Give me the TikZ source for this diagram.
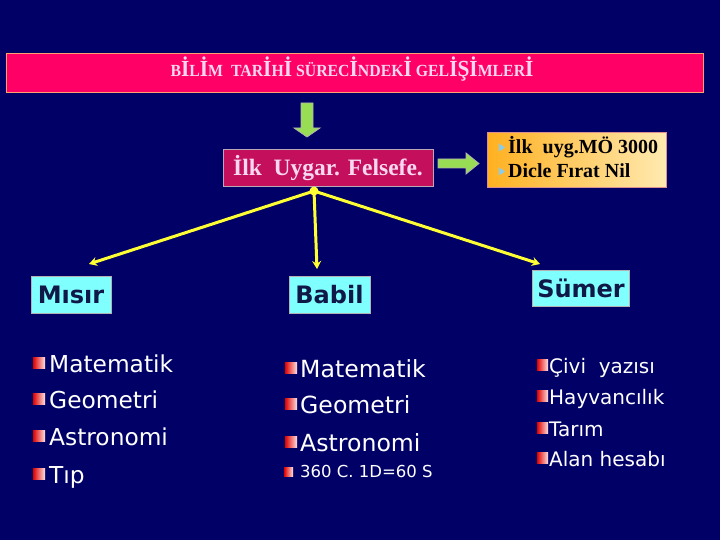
\documentclass[tikz,border=0pt]{standalone}
\usepackage{fontspec}
\usepackage{graphicx}
\setmainfont{Liberation Serif}
\newfontfamily\dv{DejaVu Sans}
\usetikzlibrary{arrows.meta}
\definecolor{bgnavy}{HTML}{000066}
\definecolor{titlefill}{HTML}{FF0066}
\definecolor{titledraw}{HTML}{FFA070}
\definecolor{titletext}{HTML}{F8D8F0}
\definecolor{crimson}{HTML}{C4105C}
\definecolor{crimsondraw}{HTML}{B8A8B8}
\definecolor{cyanf}{HTML}{80FFFF}
\definecolor{cyantext}{HTML}{101848}
\definecolor{greenf}{HTML}{99DD55}
\definecolor{yl}{HTML}{FFFF33}
\definecolor{orl}{HTML}{FFB020}
\definecolor{orr}{HTML}{FFEAB0}
\definecolor{ordraw}{HTML}{D89090}
\definecolor{bulred}{HTML}{E00000}
\definecolor{bulwhite}{HTML}{FFE0E0}
\definecolor{trib}{HTML}{88CCEE}
\newcommand\BigL[1]{{\fontsize{23}{23}\selectfont #1}}
\tikzset{
  cbox/.style={fill=cyanf, draw=gray!60, line width=1pt, text=cyantext,
    font=\dv\bfseries\fontsize{24}{28}\selectfont, minimum height=37pt, inner sep=0pt},
  itemL/.style={anchor=base west, text=white, inner sep=0pt, font=\dv\fontsize{23.3}{27}\selectfont},
  itemM/.style={anchor=base west, text=white, inner sep=0pt, font=\dv\fontsize{23.6}{27}\selectfont},
  itemS/.style={anchor=base west, text=white, inner sep=0pt, font=\dv\fontsize{16.5}{20}\selectfont},
  itemR/.style={anchor=base west, text=white, inner sep=0pt, font=\dv\fontsize{20}{24}\selectfont},
  bul/.style={left color=bulred, right color=bulwhite},
  garrow/.style={fill=greenf, draw=gray!60, line width=0.8pt},
  conn/.style={draw=yl, line width=3pt, -{Stealth[length=8pt,width=9pt]}},
  otext/.style={anchor=base west, inner sep=0pt, text=black, font=\bfseries\fontsize{20}{24}\selectfont},
}
\begin{document}
\begin{tikzpicture}[x=1pt,y=-1pt]
\fill[bgnavy] (0,0) rectangle (720,540);
\useasboundingbox (0,0) rectangle (720,540);
% title
\node[fill=titlefill, draw=titledraw, line width=1pt, minimum width=697pt, minimum height=39pt, inner sep=0pt] (title) at (354.5,73.5) {};
\node[text=titletext, inner sep=0pt, anchor=base, font=\bfseries\fontsize{17}{18}\selectfont] (titletxt) at (352,77)
  {\resizebox{363pt}{\height}{B\BigL{İ}L\BigL{İ}M\ \ TAR\BigL{İ}H\BigL{İ} SÜREC\BigL{İ}NDEK\BigL{İ} GEL\BigL{İ}\BigL{Ş}\BigL{İ}MLER\BigL{İ}}};
% green down arrow
\draw[garrow] (301,103) -- (313,103) -- (313,128) -- (320,128) -- (307,137) -- (294,128) -- (301,128) -- cycle;
% middle box
\node[fill=crimson, draw=crimsondraw, line width=1pt, minimum width=210pt, minimum height=37pt, inner sep=0pt,
  text=titletext, font=\bfseries\fontsize{23.5}{27}\selectfont] (mid) at (328,168.5) {İlk\ \ Uygar. Felsefe.};
% right arrow
\draw[garrow] (438,159) -- (466,159) -- (466,153) -- (479,163.5) -- (466,174) -- (466,168) -- (438,168) -- cycle;
% orange box
\node[left color=orl, right color=orr, draw=ordraw, line width=1pt, minimum width=179pt, minimum height=55pt, inner sep=0pt] (info) at (576.5,160.5) {};
\fill[trib] (499,143.5) -- (505,147.5) -- (499,151.5) -- cycle;
\fill[trib] (499,167.5) -- (505,171.5) -- (499,175.5) -- cycle;
\node[otext] (info1) at (508,154) {İlk\ \ uyg.MÖ 3000};
\node[otext] (info2) at (508,178) {Dicle Fırat Nil};
% category boxes
\node[cbox, minimum width=80pt] (misir) at (71,294.5) {Mısır};
\node[cbox, minimum width=81pt] (babil) at (329.5,294.5) {Babil};
\node[cbox, minimum width=97pt, minimum height=36pt] (sumer) at (581,288.5) {Sümer};
% connectors
\coordinate (hub) at (314,191);
\coordinate (tipM) at (89,264);
\coordinate (tipB) at (317,269);
\coordinate (tipS) at (540,264);
\draw[conn] (hub) -- (tipM);
\draw[conn] (hub) -- (tipB);
\draw[conn] (hub) -- (tipS);
\fill[yl] (hub) circle (4.5);
% left list
\foreach \yy/\tt [count=\i] in {372/Matematik, 408/Geometri, 445/Astronomi, 483/Tıp}{
  \fill[bul] (33,\yy-15) rectangle (45,\yy-4);
  \node[itemL] (l\i) at (49,\yy) {\tt};
}
% middle list
\foreach \yy/\tt [count=\i] in {377/Matematik, 413/Geometri, 451/Astronomi}{
  \fill[bul] (285,\yy-15) rectangle (297,\yy-4);
  \node[itemM] (m\i) at (300,\yy) {\tt};
}
\fill[bul] (284,467) rectangle (293,476);
\node[itemS] (m4) at (300,477) {360 C. 1D=60 S};
% right list
\foreach \yy/\tt [count=\i] in {373/{Çivi\ \ yazısı}, 404/Hayvancılık, 436/Tarım, 466/Alan hesabı}{
  \fill[bul] (537,\yy-14) rectangle (548,\yy-3);
  \node[itemR] (r\i) at (549,\yy) {\tt};
}
\end{tikzpicture}
\end{document}
